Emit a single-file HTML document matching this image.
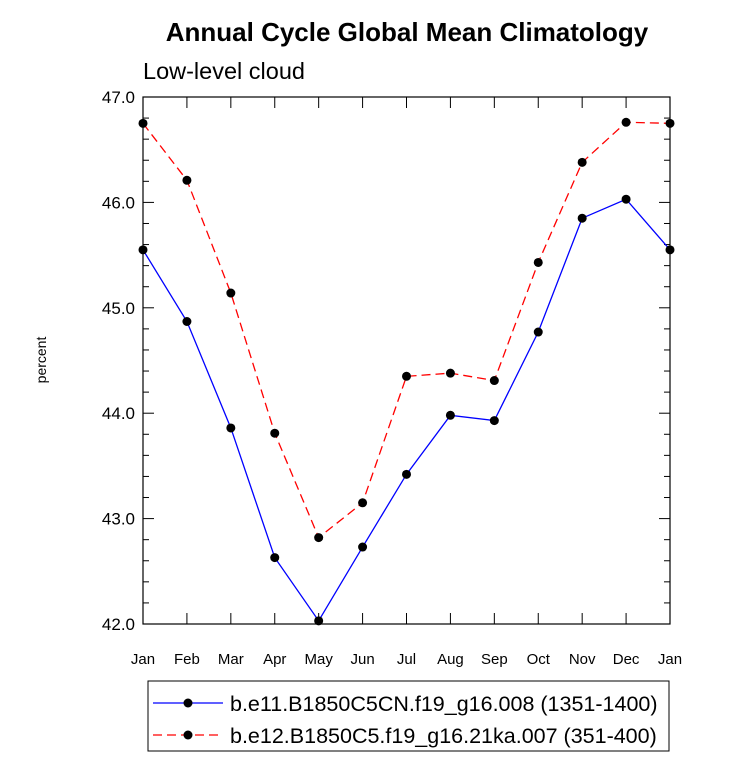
<!DOCTYPE html>
<html><head><meta charset="utf-8"><style>
body{margin:0;background:#fff;}
svg text{font-family:"Liberation Sans",Arial,sans-serif;}
</style></head><body>
<svg id="chart" width="733" height="761" xmlns="http://www.w3.org/2000/svg">
<text x="407" y="41" text-anchor="middle" font-size="26" font-weight="bold">Annual Cycle Global Mean Climatology</text>
<text x="143" y="79" font-size="23.5">Low-level cloud</text>
<text transform="translate(46,360) rotate(-90)" text-anchor="middle" font-size="14">percent</text>
<g id="axes"></g>
<g id="series"></g>
<rect x="148" y="681" width="521" height="70" fill="none" stroke="#000" stroke-width="1"/>
<g>
<line x1="153" y1="703" x2="223" y2="703" stroke="#00f" stroke-width="1.3"/>
<circle cx="188" cy="703" r="4.5" fill="#000"/>
<text x="230" y="711" font-size="21.5">b.e11.B1850C5CN.f19_g16.008 (1351-1400)</text>
</g>
<g>
<line x1="153" y1="735" x2="223" y2="735" stroke="#f00" stroke-width="1.3" stroke-dasharray="9,5"/>
<circle cx="188" cy="735" r="4.5" fill="#000"/>
<text x="230" y="743" font-size="21.5">b.e12.B1850C5.f19_g16.21ka.007 (351-400)</text>
</g>
</svg>
<script>
const months=["Jan","Feb","Mar","Apr","May","Jun","Jul","Aug","Sep","Oct","Nov","Dec","Jan"];
const blueValues=[45.55,44.87,43.86,42.63,42.03,42.73,43.42,43.98,43.93,44.77,45.85,46.03,45.55];
const redValues=[46.75,46.21,45.14,43.81,42.82,43.15,44.35,44.38,44.31,45.43,46.38,46.76,46.75];
const yTicks=[42,43,44,45,46,47];
const yTickLabels=["42.0","43.0","44.0","45.0","46.0","47.0"];
const X0=143,X1=670,Y0=624,Y1=97,ymin=42,ymax=47;
const xs=i=>X0+(X1-X0)*i/(months.length-1);
const ys=v=>Y0-(v-ymin)/(ymax-ymin)*(Y0-Y1);
const NS="http://www.w3.org/2000/svg";
function mk(t,a,p){const e=document.createElementNS(NS,t);for(const k in a)e.setAttribute(k,a[k]);p.appendChild(e);return e;}
const ax=document.getElementById('axes');
const frame=mk('rect',{x:X0,y:Y1,width:X1-X0,height:Y0-Y1,fill:'none',stroke:'#000','stroke-width':1.2},ax);


for(let v=ymin;v<=ymax+1e-6;v+=0.2){
 const y=ys(v);const major=Math.abs(v-Math.round(v))<1e-6;const L=major?11:6;
 mk('line',{x1:X0,y1:y,x2:X0+L,y2:y,stroke:'#000'},ax);
 mk('line',{x1:X1,y1:y,x2:X1-L,y2:y,stroke:'#000'},ax);
}
yTicks.forEach((v,i)=>{const t=mk('text',{x:X0-8,y:ys(v)+6,'text-anchor':'end','font-size':17},ax);t.textContent=yTickLabels[i];

});
months.forEach((m,i)=>{const x=xs(i);
 mk('line',{x1:x,y1:Y0,x2:x,y2:Y0-11,stroke:'#000'},ax);
 mk('line',{x1:x,y1:Y1,x2:x,y2:Y1+11,stroke:'#000'},ax);
 const t=mk('text',{x:x,y:Y0+40,'text-anchor':'middle','font-size':15},ax);t.textContent=m;
 
 });
const sg=document.getElementById('series');
function series(vals,color,dash,name){
 const g=mk('g',{},sg);
 
 
 const a={points:vals.map((v,i)=>xs(i)+','+ys(v)).join(' '),fill:'none',stroke:color,'stroke-width':1.3};
 if(dash)a['stroke-dasharray']=dash;
 mk('polyline',a,g);
 vals.forEach((v,i)=>{const c=mk('circle',{cx:xs(i),cy:ys(v),r:4.5,fill:'#000'},g);
 
 });
}
series(blueValues,'#00f',null,'series-blue');
series(redValues,'#f00','9,5','series-red');
</script>
</body></html>
